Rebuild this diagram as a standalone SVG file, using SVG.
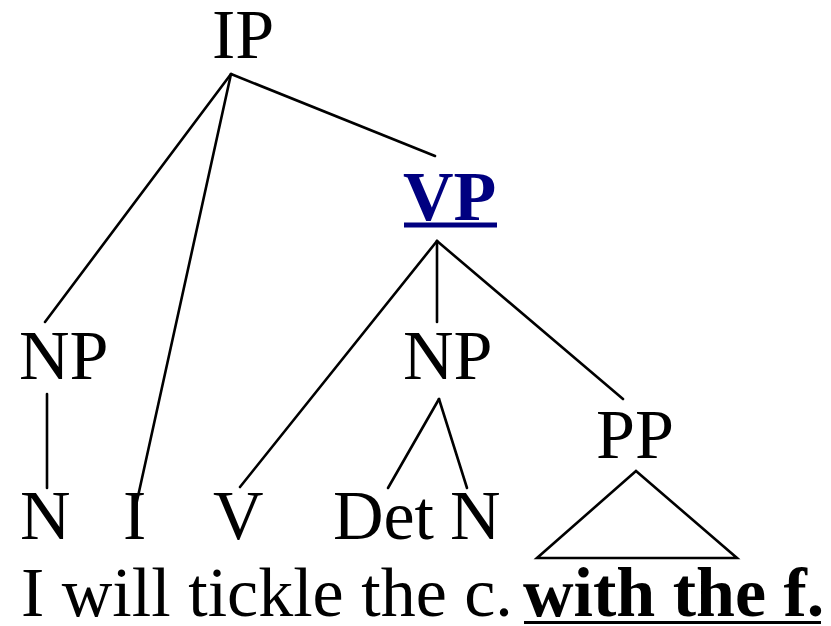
<svg xmlns="http://www.w3.org/2000/svg" width="831" height="626" viewBox="0 0 831 626">
  <style>
    text { font-family: "Liberation Serif", "Times New Roman", serif; font-size: 70px; fill: #000; }
    .bold { font-weight: bold; }
    .hl { fill: #000080; font-weight: bold; }
    .edge { stroke: #000; stroke-width: 2.6; fill: none; stroke-linecap: round; }
  </style>
  <rect width="831" height="626" fill="#fff"/>

  <!-- tree branches -->
  <g id="connectors">
    <line class="edge" x1="231" y1="74" x2="45" y2="322"/>
    <line class="edge" x1="231" y1="74" x2="135" y2="510"/>
    <line class="edge" x1="231" y1="74" x2="435" y2="156"/>
    <line class="edge" x1="437" y1="241" x2="240" y2="487"/>
    <line class="edge" x1="437" y1="241" x2="437" y2="322"/>
    <line class="edge" x1="437" y1="241" x2="623" y2="399"/>
    <line class="edge" x1="47" y1="394" x2="47" y2="488"/>
    <line class="edge" x1="439" y1="399" x2="388" y2="488"/>
    <line class="edge" x1="439" y1="399" x2="467" y2="488"/>
    <polygon class="edge" points="636,471 537,558 737,558"/>
  </g>

  <g id="IP"><text x="212" y="58">IP</text></g>
  <g id="VP">
    <text class="hl" x="403" y="220">VP</text>
    <rect x="404" y="222.5" width="93" height="5" fill="#000080"/>
  </g>
  <g id="NP-subj"><text x="19" y="379">NP</text></g>
  <g id="NP-obj"><text x="403" y="379">NP</text></g>
  <g id="PP"><text x="596" y="458">PP</text></g>
  <g id="N-subj"><text x="20" y="539">N</text></g>
  <g id="I"><text x="123" y="539">I</text></g>
  <g id="V"><text x="213" y="539">V</text></g>
  <g id="Det"><text x="333" y="539">Det</text></g>
  <g id="N-obj"><text x="450" y="539">N</text></g>

  <g id="sentence">
    <text x="21" y="616">I will tickle the c.</text>
    <text class="bold" x="523" y="616">with the f.</text>
    <rect x="524" y="621" width="297" height="3" fill="#000"/>
  </g>
</svg>
